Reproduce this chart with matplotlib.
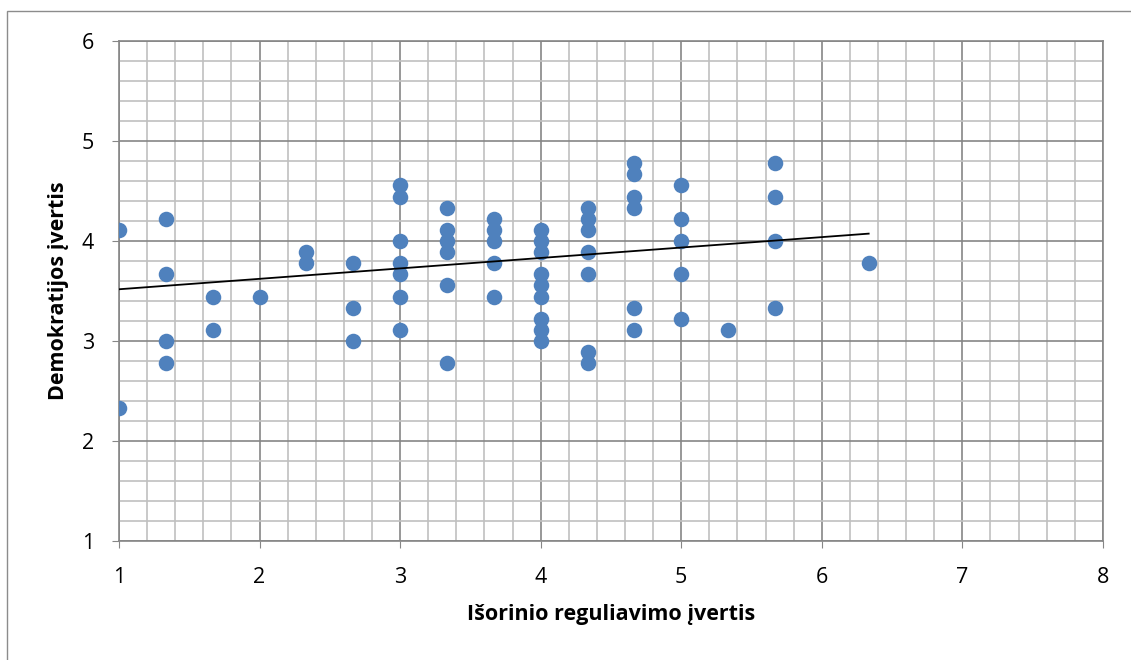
import numpy as np
import matplotlib.pyplot as plt
from matplotlib.patches import Rectangle

# scores (x: external regulation, y: democracy)
x_vals = [1, 1,
          4/3, 4/3, 4/3, 4/3,
          5/3, 5/3,
          2,
          7/3, 7/3,
          8/3, 8/3, 8/3,
          3, 3, 3, 3, 3, 3, 3,
          10/3, 10/3, 10/3, 10/3, 10/3, 10/3,
          11/3, 11/3, 11/3, 11/3, 11/3,
          4, 4, 4, 4, 4, 4, 4, 4, 4,
          13/3, 13/3, 13/3, 13/3, 13/3, 13/3, 13/3,
          14/3, 14/3, 14/3, 14/3, 14/3, 14/3,
          5, 5, 5, 5, 5,
          16/3,
          17/3, 17/3, 17/3, 17/3,
          19/3]
y_vals = [37/9, 21/9,
          38/9, 33/9, 27/9, 25/9,
          31/9, 28/9,
          31/9,
          35/9, 34/9,
          34/9, 30/9, 27/9,
          41/9, 40/9, 36/9, 34/9, 33/9, 31/9, 28/9,
          39/9, 37/9, 36/9, 35/9, 32/9, 25/9,
          38/9, 37/9, 36/9, 34/9, 31/9,
          37/9, 36/9, 35/9, 33/9, 32/9, 31/9, 29/9, 28/9, 27/9,
          39/9, 38/9, 37/9, 35/9, 33/9, 26/9, 25/9,
          43/9, 42/9, 40/9, 39/9, 30/9, 28/9,
          41/9, 38/9, 36/9, 33/9, 29/9,
          28/9,
          43/9, 40/9, 36/9, 30/9,
          34/9]

# linear trend (slope, intercept)
trend_slope = 0.1043
trend_intercept = 3.413

x_ticks = [1, 2, 3, 4, 5, 6, 7, 8]
y_ticks = [1, 2, 3, 4, 5, 6]

plt.rcParams['font.family'] = ['Open Sans', 'DejaVu Sans']

fig = plt.figure(figsize=(11.31, 6.6), dpi=100)
# chart area border (only top and left edges fall inside the image)
fig.patches.append(Rectangle((0.0058, -0.1), 1.2, 1.0826, transform=fig.transFigure,
                             fill=False, edgecolor='#8c8c8c', linewidth=1.0))
ax = fig.add_axes([0.1052, 0.1803, 0.87, 0.7576])

ax.set_xlim(1, 8)
ax.set_ylim(1, 6)
ax.set_xticks(x_ticks)
ax.set_yticks(y_ticks)
ax.set_xticks(np.arange(1, 8.01, 0.2), minor=True)
ax.set_yticks(np.arange(1, 6.01, 0.2), minor=True)
ax.grid(True, which='minor', color='#c0c0c0', linewidth=1.2)
ax.grid(True, which='major', color='#868686', linewidth=1.2)
ax.set_axisbelow(True)
for s in ax.spines.values():
    s.set_color('#868686')
    s.set_linewidth(1.2)
ax.tick_params(which='major', length=5, color='#868686', labelsize=15.5)
ax.tick_params(axis='x', which='major', pad=14)
ax.tick_params(axis='y', which='major', pad=13)
ax.tick_params(which='minor', length=0)

ax.scatter(x_vals, y_vals, s=125, color='#4F81BD', zorder=3, linewidths=0)

xs = np.array([min(x_vals), max(x_vals)])
ax.plot(xs, trend_slope * xs + trend_intercept, color='black', linewidth=1.3, zorder=4)

ax.set_xlabel('Išorinio reguliavimo įvertis', fontsize=15.5, fontweight='bold', labelpad=11)
ax.set_ylabel('Demokratijos įvertis', fontsize=15.5, fontweight='bold', labelpad=9)

fig.savefig('out.png', dpi=100)
